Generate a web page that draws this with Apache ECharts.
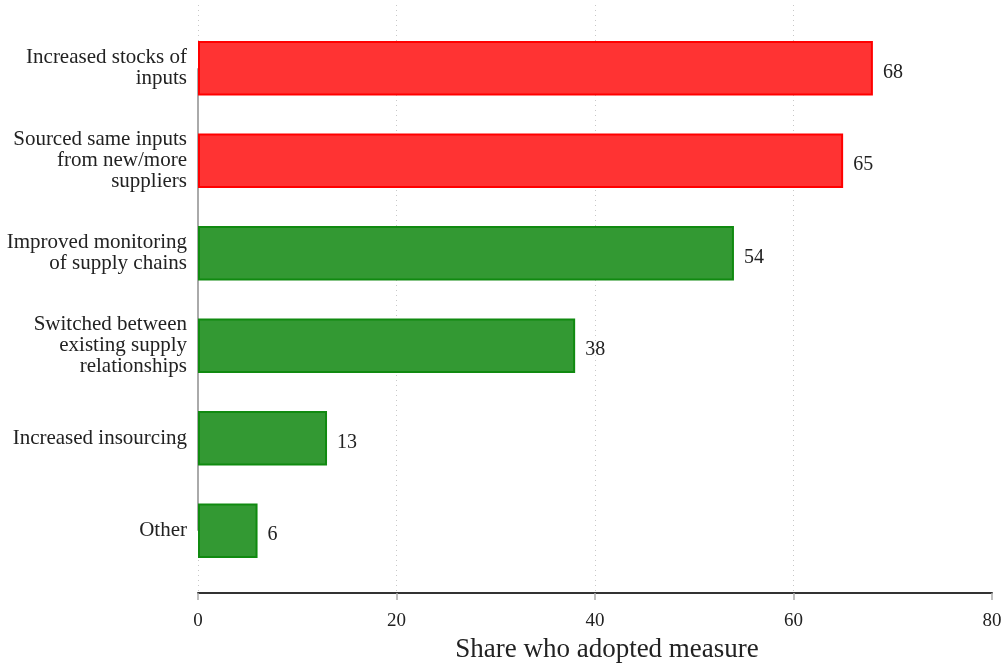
<!DOCTYPE html>
<html>
<head>
<meta charset="utf-8">
<script src="https://cdn.jsdelivr.net/npm/echarts@6/dist/echarts.min.js"></script>
<style>html,body{margin:0;padding:0;background:#fff;}#c{width:1005px;height:663px;}</style>
</head>
<body>
<div id="c"></div>
<script>
const categories = [
  "Increased stocks of\ninputs",
  "Sourced same inputs\nfrom new/more\nsuppliers",
  "Improved monitoring\nof supply chains",
  "Switched between\nexisting supply\nrelationships",
  "Increased insourcing",
  "Other"
];
const values = [68, 65, 54, 38, 13, 6];
const xTicks = [0, 20, 40, 60, 80];

const FONT = "'Liberation Serif', 'DejaVu Serif', serif";
const chart = echarts.init(document.getElementById('c'), null, {renderer: 'canvas'});
const data = values.map((v, i) => ({
  value: v,
  itemStyle: i < 2
    ? {color: '#ff3333', borderColor: '#ff0000', borderWidth: 2}
    : {color: '#339933', borderColor: '#108a10', borderWidth: 2}
}));
chart.setOption({
  animation: false,
  backgroundColor: '#fff',
  grid: [
    {left: 198, right: 13, top: 5, bottom: 70, outerBoundsMode: 'none', containLabel: false},
    {left: 198, right: 13, top: 22, bottom: 86, outerBoundsMode: 'none', containLabel: false}
  ],
  xAxis: [
    {
      gridIndex: 0, type: 'value', min: xTicks[0], max: xTicks[xTicks.length - 1], interval: 20,
      axisLine: {show: true, lineStyle: {color: '#333', width: 2}},
      axisTick: {show: true, length: 7, lineStyle: {color: '#aaa', width: 1.5}},
      axisLabel: {color: '#222', fontFamily: FONT, fontSize: 19, margin: 19},
      splitLine: {show: true, showMaxLine: false, lineStyle: {color: '#c8c8c8', type: [1, 4], width: 1}},
      name: 'Share who adopted measure', nameLocation: 'middle', nameGap: 43,
      nameTextStyle: {color: '#222', fontFamily: FONT, fontSize: 27, padding: [0, 0, 0, 24]}
    },
    {gridIndex: 1, type: 'value', min: 0, max: 80, show: false}
  ],
  yAxis: [
    {gridIndex: 0, type: 'value', show: false},
    {
      gridIndex: 1, type: 'category', data: categories, inverse: true,
      axisLine: {show: false}, axisTick: {show: false}, splitLine: {show: false},
      axisLabel: {color: '#222', fontFamily: FONT, fontSize: 21, lineHeight: 21, margin: 11, padding: [0, 0, 9, 0]}
    }
  ],
  series: [{
    type: 'bar', xAxisIndex: 1, yAxisIndex: 1, data: data, barWidth: '59%',
    label: {show: true, position: 'right', distance: 10, offset: [0, 4], color: '#222', fontFamily: FONT, fontSize: 20},
    markLine: {
      silent: true, symbol: 'none', z: 1,
      lineStyle: {color: '#aaa', width: 2, type: 'solid'},
      label: {show: false},
      data: [[{coord: [0, categories[0]]}, {coord: [0, categories[categories.length - 1]]}]]
    }
  }]
});
</script>
</body>
</html>
